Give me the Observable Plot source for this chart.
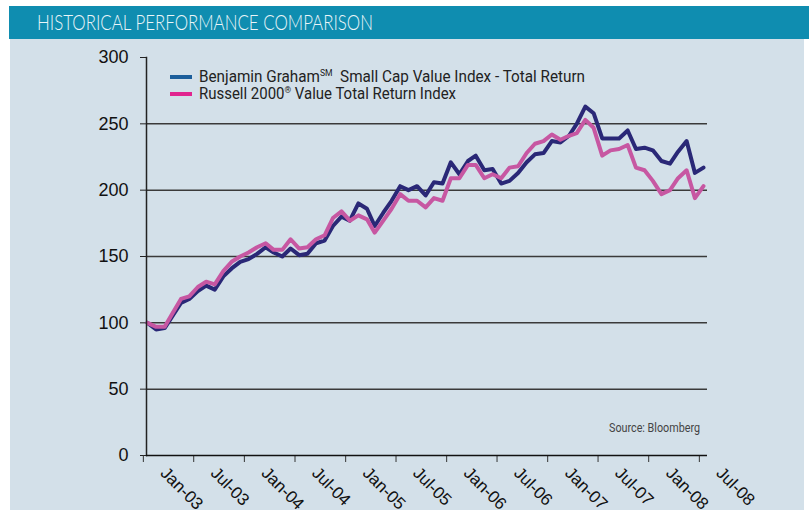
<!DOCTYPE html>
<html><head><meta charset="utf-8">
<script src="https://cdn.jsdelivr.net/npm/d3@7"></script>
<script src="https://cdn.jsdelivr.net/npm/@observablehq/plot@0.6"></script>
<style>
body{margin:0;background:#fff;}
#wrap{position:relative;width:809px;height:510px;overflow:hidden;}
#titlebar{position:absolute;left:9px;top:6px;width:800px;height:33px;background:#0f8db0;}
#panel{position:absolute;left:10px;top:39px;width:794px;height:471px;background:#d3e0e9;}
#chart{position:absolute;left:0;top:39px;}
.fit{position:absolute;white-space:nowrap;transform-origin:0 0;line-height:1;}
#title{left:37px;top:11px;font-family:Lato,sans-serif;font-weight:300;font-size:21px;color:#eaf5f9;}
.sw{position:absolute;left:170px;width:22px;height:4px;}
.lt{left:199px;font-family:Roboto,sans-serif;font-size:16px;color:#222;}
.lt sup{font-size:9px;vertical-align:0;position:relative;top:-6px;}
#source{left:609px;top:422px;font-family:Roboto,sans-serif;font-size:12.5px;color:#444;}
</style></head>
<body>
<div id="wrap">
  <div id="titlebar"></div>
  <div id="panel"></div>
  <span class="fit" id="title" data-w="336">HISTORICAL PERFORMANCE COMPARISON</span>
  <div id="chart"></div>
  <div class="sw" style="top:75px;background:#1b5e9b"></div>
  <span class="fit lt" style="top:69px" data-w="386">Benjamin Graham<sup>SM</sup>&nbsp; Small Cap Value Index - Total Return</span>
  <div class="sw" style="top:92px;background:#e1248f"></div>
  <span class="fit lt" style="top:86px" data-w="257">Russell 2000<sup>®</sup> Value Total Return Index</span>
  <span class="fit" id="source" data-w="91">Source: Bloomberg</span>
</div>
<script>
// Monthly observations, Dec-02 .. Jun-08 (index = 100 at Dec-02)
const startMonth = new Date(Date.UTC(2002, 11, 1));
const endMonth = new Date(Date.UTC(2008, 5, 1));
const months = d3.utcMonth.range(startMonth, d3.utcMonth.offset(endMonth, 1));

const grahamValues = [100,95,96,105,115,118,124,128,125,135,141,146,148,152,157,153,150,156,151,152,160,162,173,180,177,190,186,173,183,192,203,200,203,196,206,205,221,212,222,226,215,216,205,207,213,221,227,228,237,236,241,250,263,258,239,239,239,245,231,232,230,222,220,229,237,213,217];
const russellValues = [100,97,97,107,118,120,127,131,129,139,146,150,153,157,160,155,155,163,156,157,163,166,179,184,177,181,178,168,177,186,197,192,192,187,194,192,209,209,219,219,209,212,209,217,218,228,235,237,242,238,241,243,253,247,226,230,231,234,217,215,207,197,200,209,215,194,203];

const tickLabels = ["Jan-03","Jul-03","Jan-04","Jul-04","Jan-05","Jul-05","Jan-06","Jul-06","Jan-07","Jul-07","Jan-08","Jul-08"];
const yTicks = [0,50,100,150,200,250,300];
const gridValues = [50,100,150,200,250];

const parseLabel = d3.utcParse("%b-%y");
const labelDates = tickLabels.map(parseLabel);
// tick marks sit on category boundaries, half a month before the period each label opens
const tickDates = labelDates.map(d => d3.utcDay.offset(d3.utcMonth.offset(d, -1), -15));

const chart = Plot.plot({
  width: 809, height: 471,
  marginLeft: 146, marginRight: 102, marginTop: 18, marginBottom: 55,
  style: {background: "transparent", fontFamily: "'Liberation Sans', Arial, sans-serif", color: "#111", overflow: "visible"},
  x: {type: "utc", domain: [startMonth, endMonth], range: [147, 703]},
  y: {domain: [0, 300]},
  marks: [
    Plot.ruleY(gridValues, {stroke: "#3a3a3a", strokeWidth: 1.5}),
    Plot.axisY({ticks: yTicks, tickSize: 6, tickPadding: 12, fontSize: 18, label: null, stroke: "#222"}),
    Plot.axisX({ticks: tickDates, tickSize: 7, tickFormat: () => "", label: null, stroke: "#333"}),
    Plot.text(labelDates, {x: d => d, text: (d, i) => tickLabels[i], frameAnchor: "bottom", rotate: 45,
      textAnchor: "start", lineAnchor: "top", dx: 12, dy: 10, fontSize: 17, fill: "#111"}),
    Plot.line(months, {x: d => d, y: (d, i) => grahamValues[i], stroke: "#2a2877", strokeWidth: 4}),
    Plot.line(months, {x: d => d, y: (d, i) => russellValues[i], stroke: "#c757a2", strokeWidth: 4}),
    Plot.frame({anchor: "left", stroke: "#222", strokeWidth: 1.5}),
    Plot.ruleY([0], {stroke: "#111", strokeWidth: 1.5})
  ]
});
document.getElementById("chart").appendChild(chart);

document.querySelectorAll(".fit[data-w]").forEach(el => {
  const w = el.getBoundingClientRect().width;
  el.style.transform = `scaleX(${+el.dataset.w / w})`;
});
</script>
</body></html>
